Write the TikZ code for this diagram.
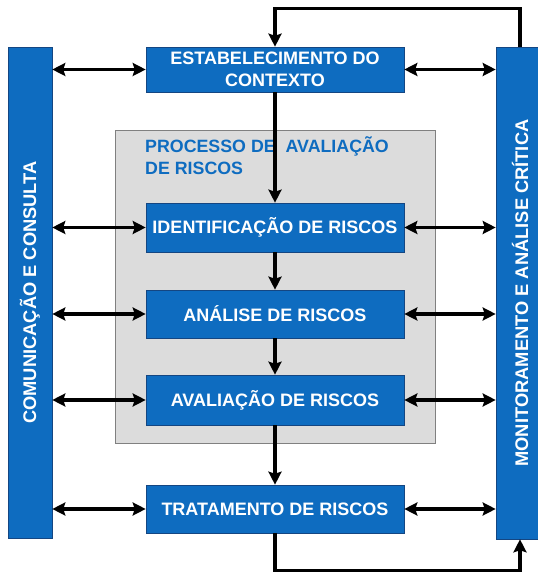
\documentclass[tikz,border=0pt]{standalone}
\usepackage{fontspec}
\setmainfont{Liberation Sans}
\usetikzlibrary{arrows.meta}
\definecolor{isoblue}{RGB}{14,108,192}
\definecolor{isoline}{RGB}{20,70,130}
\definecolor{isogray}{RGB}{220,220,220}
\begin{document}
\begin{tikzpicture}[x=1pt,y=1pt,
  box/.style={draw=isoline,line width=.6pt,fill=isoblue,text=white,inner sep=0pt,align=center,
    font=\fontsize{18}{21.5}\selectfont\bfseries,minimum width=258pt},
  bar/.style={draw=isoline,line width=.6pt,fill=isoblue,text=white,inner sep=0pt,rotate=90,
    font=\fontsize{18.3}{22}\selectfont\bfseries},
  tip/.tip={Stealth[length=13pt,width=13pt,inset=2pt]},
  link/.style={line width=3.2pt,-tip},
  both/.style={line width=3.2pt,tip-tip}]
\useasboundingbox (0,0) rectangle (538,573);
\clip (0,0) rectangle (538,573);

% the two side bars
\node[bar,minimum width=491pt,minimum height=44pt] (lbar) at (30,280.5) {COMUNICAÇÃO E CONSULTA};
\node[bar,minimum width=492pt,minimum height=48pt] (rbar) at (520,280) {MONITORAMENTO E ANÁLISE CRÍTICA};

% gray area of the assessment
\node[draw=gray,line width=.7pt,fill=isogray,minimum width=320pt,minimum height=313pt,inner sep=0pt] (area) at (275,286.5) {};
\node[anchor=north west,inner sep=0pt,align=left,text=isoblue,font=\fontsize{17.8}{22.4}\selectfont\bfseries] (title) at (145,437) {PROCESSO DE~ AVALIAÇÃO\\DE RISCOS};

% process steps
\node[box,minimum height=45pt] (ctx) at (275,503.5) {ESTABELECIMENTO DO\\CONTEXTO};
\node[box,minimum height=49pt] (ident) at (275,345.5) {IDENTIFICAÇÃO DE RISCOS};
\node[box,minimum height=48pt] (anal) at (275,259) {ANÁLISE DE RISCOS};
\node[box,minimum height=50pt] (aval) at (275,173) {AVALIAÇÃO DE RISCOS};
\node[box,minimum height=48pt] (treat) at (275,64) {TRATAMENTO DE RISCOS};

% flow down
\draw[link] (ctx) -- (ident);
\draw[link] (ident) -- (anal);
\draw[link] (anal) -- (aval);
\draw[link] (aval) -- (treat);

% to and from the bars
\foreach \s in {ctx,ident,anal,aval,treat}{
  \draw[both] (lbar.south |- \s) -- (\s.west);
  \draw[both] (\s.east) -- (rbar.north |- \s);
}

% feedback loops
\draw[link] (rbar.east) -- ++(0,38) -| (ctx.north);
\draw[link] (treat.south) -- ++(0,-37) -| (rbar.west);
\end{tikzpicture}
\end{document}
